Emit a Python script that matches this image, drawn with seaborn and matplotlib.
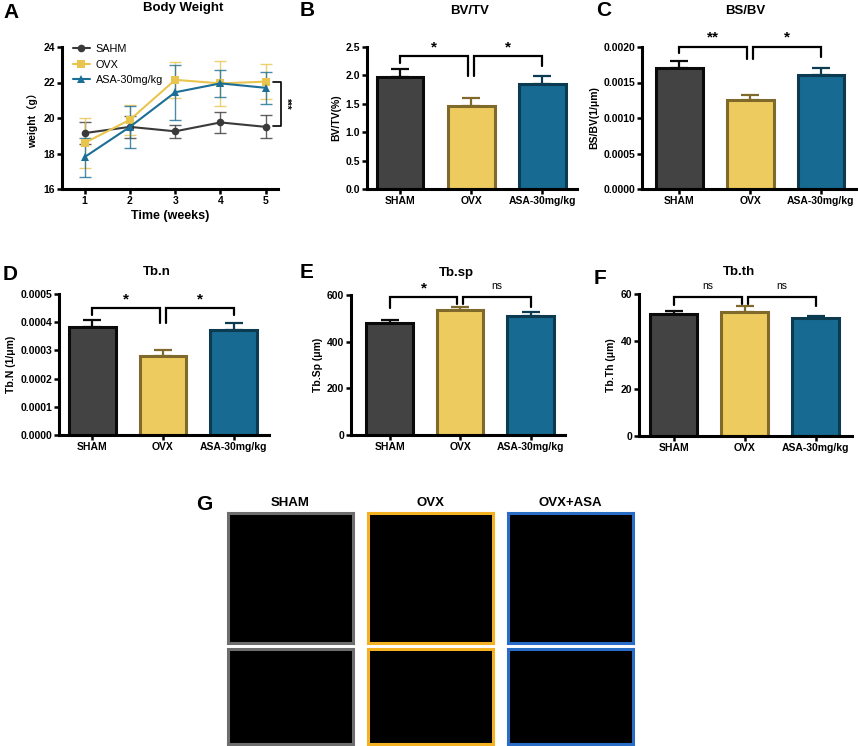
import numpy as np
import pandas as pd
import matplotlib
matplotlib.use("Agg")
import matplotlib.pyplot as plt
import seaborn as sns

sns.set_theme(style="ticks")
plt.rcParams['font.family'] = ['Liberation Sans', 'Noto Sans CJK SC', 'DejaVu Sans']
plt.rcParams['font.weight'] = 'bold'
plt.rcParams['axes.labelweight'] = 'bold'
for k in ['text.color', 'axes.labelcolor', 'xtick.color', 'ytick.color',
          'xtick.labelcolor', 'ytick.labelcolor']:
    plt.rcParams[k] = 'black'

# ---------------- data ----------------
weeks = [1, 2, 3, 4, 5]
line_groups = ["SAHM", "OVX", "ASA-30mg/kg"]
sahm_w = [19.15, 19.5, 19.25, 19.75, 19.5]
sahm_e = [0.6, 0.6, 0.35, 0.6, 0.65]
ovx_w = [18.6, 19.9, 22.15, 21.95, 22.05]
ovx_e = [1.4, 0.85, 1.0, 1.25, 1.0]
asa_w = [17.8, 19.5, 21.45, 21.95, 21.7]
asa_e = [1.1, 1.2, 1.55, 0.75, 0.9]

bar_cats = ["SHAM", "OVX", "ASA-30mg/kg"]
bvtv = [1.97, 1.47, 1.85]
bvtv_e = [0.15, 0.13, 0.14]
bsbv = [0.00171, 0.00125, 0.00160]
bsbv_e = [0.00009, 0.00008, 0.00011]
tbn = [0.000383, 0.000281, 0.000372]
tbn_e = [0.000025, 0.00002, 0.000025]
tbsp = [478, 535, 508]
tbsp_e = [17, 12, 18]
tbth = [51.7, 52.5, 49.8]
tbth_e = [1.2, 2.3, 0.7]

img_titles = ["SHAM", "OVX", "OVX+ASA"]

# ---------------- styles ----------------
line_colors = {"SAHM": "#3a3a3a", "OVX": "#E9C54E", "ASA-30mg/kg": "#1B6E96"}
bar_fill = ["#434343", "#EDCB5E", "#176A91"]
bar_edge = ["#0a0a0a", "#7F6A2C", "#0C3A50"]
img_edge = ["#6e6e6e", "#F4B223", "#2A6DC6"]

W, H = 858, 746
fig = plt.figure(figsize=(W / 100, H / 100), dpi=100)


def ax_px(l, t, r, b):
    return fig.add_axes([l / W, 1 - b / H, (r - l) / W, (b - t) / H])


def ftext(x, y, s, **kw):
    fig.text(x / W, 1 - y / H, s, color="black", **kw)


def style_axes(ax):
    sns.despine(ax=ax)
    for s in ("left", "bottom"):
        ax.spines[s].set_linewidth(2.2)
        ax.spines[s].set_color("black")
    ax.tick_params(axis="both", direction="out", length=3.5, width=1.8,
                   labelsize=7.5, color="black", labelcolor="black", pad=1.5)
    for lab in ax.get_xticklabels() + ax.get_yticklabels():
        lab.set_fontweight("bold")


# ---------------- panel A ----------------
axA = ax_px(62, 47, 278, 189)
df = pd.DataFrame({
    "week": weeks * 3,
    "weight": sahm_w + ovx_w + asa_w,
    "group": sum([[g] * 5 for g in line_groups], []),
})
errs = {"SAHM": sahm_e, "OVX": ovx_e, "ASA-30mg/kg": asa_e}
means = {"SAHM": sahm_w, "OVX": ovx_w, "ASA-30mg/kg": asa_w}
for g in line_groups:
    axA.errorbar(weeks, means[g], yerr=errs[g], fmt="none", ecolor=line_colors[g],
                 elinewidth=1.0, capsize=4, capthick=1.0, alpha=0.8, zorder=1)
sns.lineplot(data=df, x="week", y="weight", hue="group", style="group",
             palette=line_colors, markers={"SAHM": "o", "OVX": "s", "ASA-30mg/kg": "^"},
             dashes=False, markersize=5.5, markeredgewidth=0, linewidth=1.5, ax=axA,
             hue_order=line_groups, zorder=3)
axA.set_xlim(0.5, 5.27)
axA.set_ylim(16, 24)
axA.set_yticks([16, 18, 20, 22, 24])
axA.set_xticks(weeks)
axA.set_xlabel("Time (weeks)", fontsize=9, fontweight="bold", labelpad=3)
axA.set_ylabel("weight（g）", fontsize=7.5, fontweight="bold", labelpad=4)
leg = axA.legend(frameon=False, loc="upper left", fontsize=7.8, handlelength=1.6,
                 borderaxespad=0.0, labelspacing=0.5, bbox_to_anchor=(0.03, 1.05),
                 handletextpad=0.5)
for t in leg.get_texts():
    t.set_fontweight("normal")
    t.set_color("black")
style_axes(axA)
# significance bracket
axA.plot([5.16, 5.33, 5.33, 5.16], [22.05, 22.05, 19.57, 19.57], color="black",
         lw=1.2, clip_on=False)
axA.text(5.45, 20.8, "***", rotation=-90, ha="center", va="center", fontsize=7,
         fontweight="bold")


# ---------------- bar panels ----------------
def bar_panel(rect, vals, es, ylim, yticks, fmt, ylabel, xlim):
    ax = ax_px(*rect)
    sns.barplot(x=bar_cats, y=vals, hue=bar_cats, palette=bar_fill, legend=False,
                width=0.66, ax=ax, zorder=2, saturation=1)
    for p, ec in zip(ax.patches, bar_edge):
        p.set_edgecolor(ec)
        p.set_linewidth(2.2)
    for i in range(3):
        ax.errorbar([i], [vals[i]], yerr=[[0], [es[i]]], fmt="none", ecolor=bar_edge[i],
                    elinewidth=1.6, capsize=6.5, capthick=1.6, zorder=1)
    ax.set_ylim(*ylim)
    ax.set_yticks(yticks)
    ax.set_yticklabels([fmt.format(v) for v in yticks])
    ax.set_xlim(*xlim)
    ax.set_ylabel(ylabel, fontsize=7.5, fontweight="bold", labelpad=3)
    style_axes(ax)
    return ax


def bracket(ax, x0, x1, top, d0, d1, label, ly, star):
    ax.plot([x0, x0, x1, x1], [d0, top, top, d1], color="black", lw=1.6,
            clip_on=False, solid_joinstyle="miter")
    ax.text((x0 + x1) / 2, ly, label, ha="center", va="center",
            fontsize=11 if star else 7.5, fontweight="bold" if star else "normal",
            clip_on=False)


axB = bar_panel((367, 47, 577, 189), bvtv, bvtv_e, (0, 2.5),
                [0.0, 0.5, 1.0, 1.5, 2.0, 2.5], "{:.1f}", "BV/TV(%)",
                (-0.465, 2.49))
bracket(axB, 0, 0.96, 2.34, 2.22, 1.99, "*", 2.50, True)
bracket(axB, 1.04, 2.0, 2.34, 1.99, 2.17, "*", 2.50, True)

axC = bar_panel((642, 47, 857, 189), bsbv, bsbv_e, (0, 0.002),
                [0.0, 0.0005, 0.0010, 0.0015, 0.0020], "{:.4f}", "BS/BV(1/μm)",
                (-0.53, 2.51))
bracket(axC, 0, 0.96, 0.00200, 0.00192, 0.00183, "**", 0.00214, True)
bracket(axC, 1.04, 2.0, 0.00200, 0.00183, 0.00186, "*", 0.00214, True)

axD = bar_panel((59, 294, 269, 435), tbn, tbn_e, (0, 0.0005),
                [0.0, 0.0001, 0.0002, 0.0003, 0.0004, 0.0005], "{:.4f}", "Tb.N (1/μm)",
                (-0.47, 2.5))
bracket(axD, 0, 0.96, 0.000451, 0.000424, 0.000398, "*", 0.000481, True)
bracket(axD, 1.04, 2.0, 0.000451, 0.000398, 0.000424, "*", 0.000481, True)

axE = bar_panel((351, 295, 565, 435), tbsp, tbsp_e, (0, 600),
                [0, 200, 400, 600], "{:.0f}", "Tb.Sp (μm)",
                (-0.55, 2.49))
bracket(axE, 0, 0.96, 592, 543, 560, "*", 630, True)
bracket(axE, 1.04, 2.0, 592, 560, 550, "ns", 640, False)

axF = bar_panel((639, 294, 852, 436), tbth, tbth_e, (0, 60),
                [0, 20, 40, 60], "{:.0f}", "Tb.Th (μm)",
                (-0.49, 2.51))
bracket(axF, 0, 0.96, 58.6, 55.4, 55.7, "ns", 63.3, False)
bracket(axF, 1.04, 2.0, 58.6, 55.7, 55.1, "ns", 63.3, False)

# ---------------- panel titles ----------------
for s, x, y in [("Body Weight", 183, 8), ("BV/TV", 470, 11), ("BS/BV", 745, 11),
                ("Tb.n", 157, 272), ("Tb.sp", 456, 273), ("Tb.th", 739, 272)]:
    ftext(x, y, s, fontsize=9.5, fontweight="bold", ha="center", va="center")

# ---------------- panel G (image frames) ----------------
cols = [(228, 353), (368, 493), (508, 633)]
rows = [(513, 643), (649, 744)]
for r, (t, b) in enumerate(rows):
    for c, (l, rr) in enumerate(cols):
        ax = ax_px(l, t, rr, b)
        ax.set_facecolor("black")
        ax.set_xticks([])
        ax.set_yticks([])
        for s in ax.spines.values():
            s.set_visible(True)
            s.set_color(img_edge[c])
            s.set_linewidth(2.2)
        if r == 0:
            ax.set_title(img_titles[c], fontsize=9.5, fontweight="bold", pad=5,
                         color="black")

# ---------------- panel letters ----------------
for lab, x, y in [("A", 3, 13), ("B", 300, 11), ("C", 596, 11),
                  ("D", 3, 275), ("E", 300, 273), ("F", 594, 279), ("G", 196, 505)]:
    ftext(x, y, lab, fontsize=15, fontweight="bold", va="center", ha="left")

fig.savefig("out.png", dpi=100, facecolor="white")
